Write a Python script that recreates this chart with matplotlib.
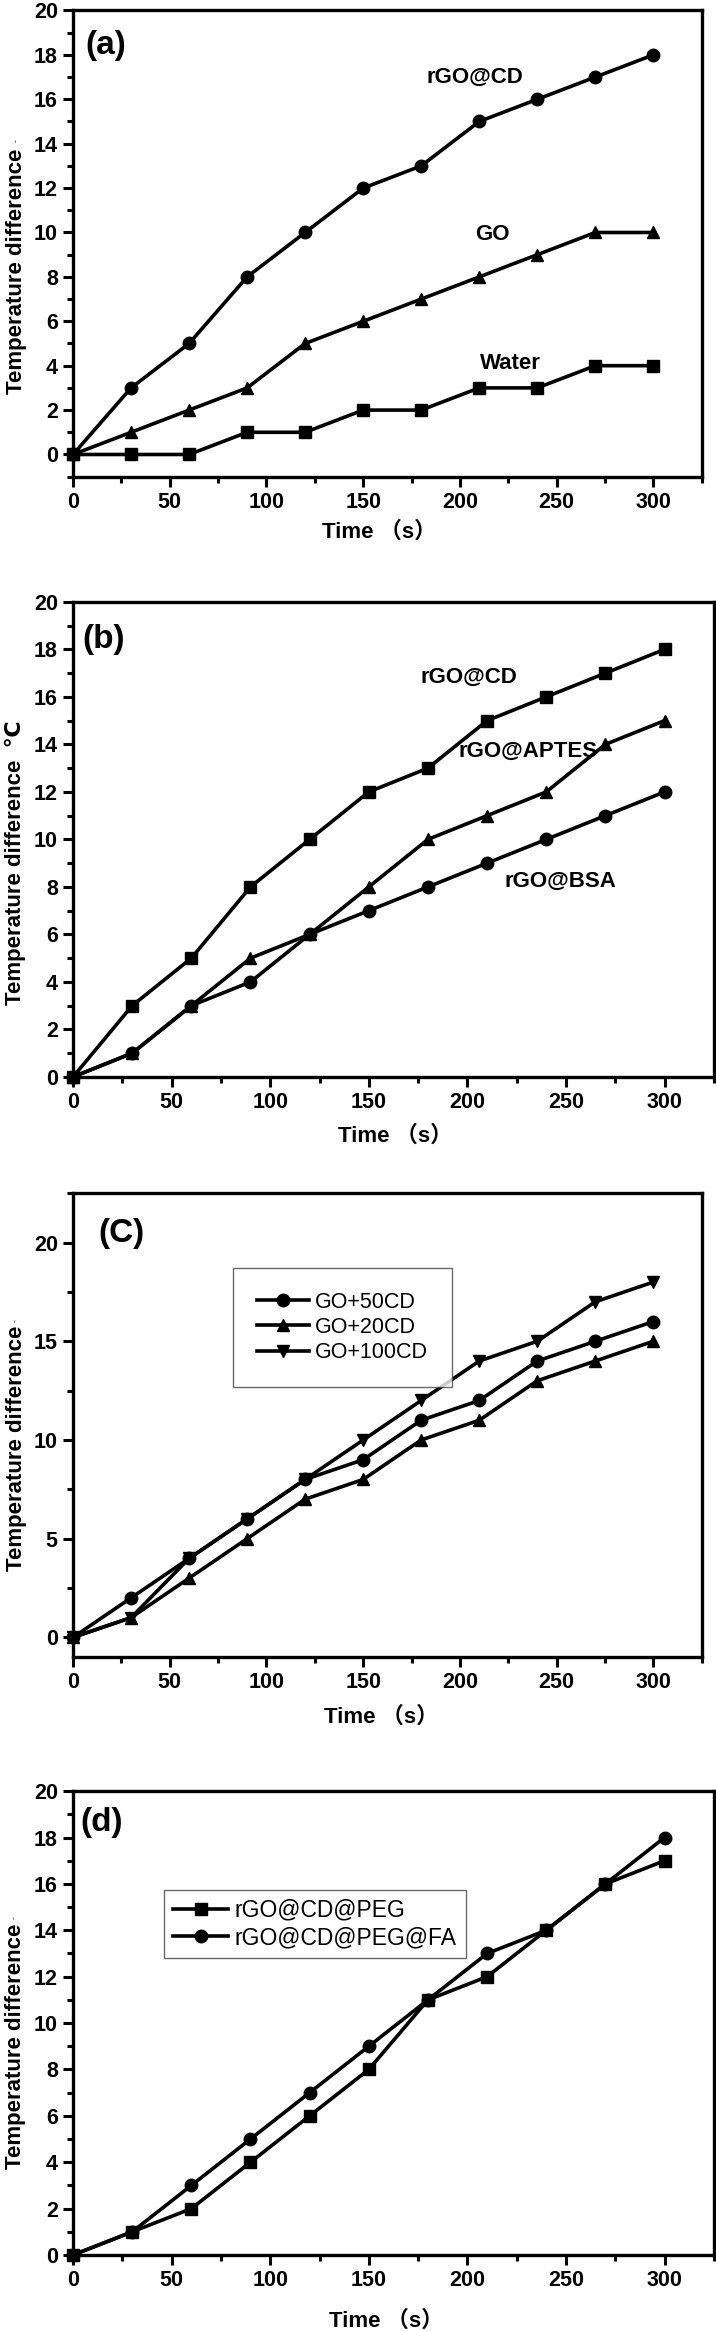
import matplotlib
matplotlib.use("Agg")
import matplotlib.pyplot as plt
from matplotlib.ticker import MultipleLocator

# time points (s), shared by all four panels
time = [0, 30, 60, 90, 120, 150, 180, 210, 240, 270, 300]

# (a)
a_rgo_cd = [0, 3, 5, 8, 10, 12, 13, 15, 16, 17, 18]
a_go = [0, 1, 2, 3, 5, 6, 7, 8, 9, 10, 10]
a_water = [0, 0, 0, 1, 1, 2, 2, 3, 3, 4, 4]

# (b)
b_rgo_cd = [0, 3, 5, 8, 10, 12, 13, 15, 16, 17, 18]
b_rgo_aptes = [0, 1, 3, 5, 6, 8, 10, 11, 12, 14, 15]
b_rgo_bsa = [0, 1, 3, 4, 6, 7, 8, 9, 10, 11, 12]

# (c)
c_go_50cd = [0, 2, 4, 6, 8, 9, 11, 12, 14, 15, 16]
c_go_20cd = [0, 1, 3, 5, 7, 8, 10, 11, 13, 14, 15]
c_go_100cd = [0, 1, 4, 6, 8, 10, 12, 14, 15, 17, 18]

# (d)
d_peg = [0, 1, 2, 4, 6, 8, 11, 12, 14, 16, 17]
d_peg_fa = [0, 1, 3, 5, 7, 9, 11, 13, 14, 16, 18]

plt.rcParams['font.family'] = ['Liberation Sans', 'DejaVu Sans', 'Noto Sans CJK SC']

fig = plt.figure(figsize=(7.16, 23.31), dpi=100)

LW = 2.6


def style_axis(ax, ylim, ymajor, yminor, panel, panel_xy, xlab_xy, ylab_y, ylabel):
    ax.set_xlim(0, 325)
    ax.set_ylim(*ylim)
    ax.xaxis.set_major_locator(MultipleLocator(50))
    ax.xaxis.set_minor_locator(MultipleLocator(25))
    ax.yaxis.set_major_locator(MultipleLocator(ymajor))
    ax.yaxis.set_minor_locator(MultipleLocator(yminor))
    ax.set_xticks([0, 50, 100, 150, 200, 250, 300])
    for s in ax.spines.values():
        s.set_linewidth(2.4)
    ax.tick_params(which='major', direction='out', length=7, width=2.2, pad=4,
                   labelsize=15.5, top=False, right=False)
    ax.tick_params(which='minor', direction='out', length=4, width=2.2,
                   top=False, right=False)
    for lab in ax.get_xticklabels() + ax.get_yticklabels():
        lab.set_fontweight('bold')
    ax.set_xlabel('Time （s）', fontsize=16, fontweight='bold')
    ax.xaxis.label.set_va('center')
    ax.xaxis.set_label_coords(*xlab_xy)
    ax.set_ylabel(ylabel, fontsize=16, fontweight='bold')
    ax.yaxis.label.set_va('center')
    ax.yaxis.set_label_coords(-0.09, ylab_y)
    ax.text(panel_xy[0], panel_xy[1], panel, transform=ax.transAxes,
            fontsize=24, fontweight='bold', ha='left', va='center')


# --- (a) ---
ax = fig.add_axes([0.102, 0.7955, 0.878, 0.200])
ax.plot(time, a_rgo_cd, 'k-o', lw=LW, ms=9, clip_on=False)
ax.plot(time, a_go, 'k-^', lw=LW, ms=9, clip_on=False)
ax.plot(time, a_water, 'k-s', lw=LW, ms=8, clip_on=False)
ax.text(208, 17.0, 'rGO@CD', fontsize=16, fontweight='bold', ha='center', va='center')
ax.text(217, 9.9, 'GO', fontsize=16, fontweight='bold', ha='center', va='center')
ax.text(226, 4.1, 'Water', fontsize=16, fontweight='bold', ha='center', va='center')
style_axis(ax, (-1, 20), 2, 1, '(a)', (0.02, 0.925), (0.487, -0.118), 0.44,
           'Temperature difference')
ax.text(-0.085, 0.72, 'ˇ', transform=ax.transAxes, fontsize=6, rotation=90,
        ha='center', va='center')

# --- (b) ---
ax = fig.add_axes([0.102, 0.538, 0.895, 0.2038])
ax.plot(time, b_rgo_cd, 'k-s', lw=LW, ms=8, clip_on=False)
ax.plot(time, b_rgo_aptes, 'k-^', lw=LW, ms=9, clip_on=False)
ax.plot(time, b_rgo_bsa, 'k-o', lw=LW, ms=9, clip_on=False)
ax.text(201, 16.8, 'rGO@CD', fontsize=16, fontweight='bold', ha='center', va='center')
ax.text(231, 13.7, 'rGO@APTES', fontsize=16, fontweight='bold', ha='center', va='center')
ax.text(247, 8.25, 'rGO@BSA', fontsize=16, fontweight='bold', ha='center', va='center')
style_axis(ax, (0, 20), 2, 1, '(b)', (0.014, 0.92), (0.502, -0.124), 0.45,
           'Temperature difference  ℃')

# --- (c) ---
ax = fig.add_axes([0.102, 0.2891, 0.878, 0.199])
ax.plot(time, c_go_50cd, 'k-o', lw=LW, ms=9, label='GO+50CD', clip_on=False)
ax.plot(time, c_go_20cd, 'k-^', lw=LW, ms=9, label='GO+20CD', clip_on=False)
ax.plot(time, c_go_100cd, 'k-v', lw=LW, ms=9, label='GO+100CD', clip_on=False)
style_axis(ax, (-1, 22.5), 5, 2.5, '(C)', (0.04, 0.914), (0.49, -0.129), 0.45,
           'Temperature difference')
ax.text(-0.087, 0.726, 'ˇ', transform=ax.transAxes, fontsize=6, rotation=90,
        ha='center', va='center')
leg = ax.legend(loc='upper left', bbox_to_anchor=(0.238, 0.862), fontsize=15.5,
                frameon=True, fancybox=False, edgecolor='#444444',
                handlelength=2.4, handletextpad=0.3, labelspacing=0.2,
                borderpad=1.1)
leg.get_frame().set_linewidth(1)

# --- (d) ---
ax = fig.add_axes([0.102, 0.0326, 0.895, 0.199])
ax.plot(time, d_peg, 'k-s', lw=LW, ms=8, label='rGO@CD@PEG', clip_on=False)
ax.plot(time, d_peg_fa, 'k-o', lw=LW, ms=9, label='rGO@CD@PEG@FA', clip_on=False)
style_axis(ax, (0, 20), 2, 1, '(d)', (0.011, 0.933), (0.488, -0.142), 0.45,
           'Temperature difference')
ax.text(-0.087, 0.728, 'ˇ', transform=ax.transAxes, fontsize=6, rotation=90,
        ha='center', va='center')
leg = ax.legend(loc='upper left', bbox_to_anchor=(0.124, 0.8125), fontsize=16.5,
                frameon=True, fancybox=False, edgecolor='#444444',
                handlelength=2.4, handletextpad=0.3, labelspacing=0.2,
                borderpad=0.4)
leg.get_frame().set_linewidth(1)

fig.savefig('out.png', dpi=100)
